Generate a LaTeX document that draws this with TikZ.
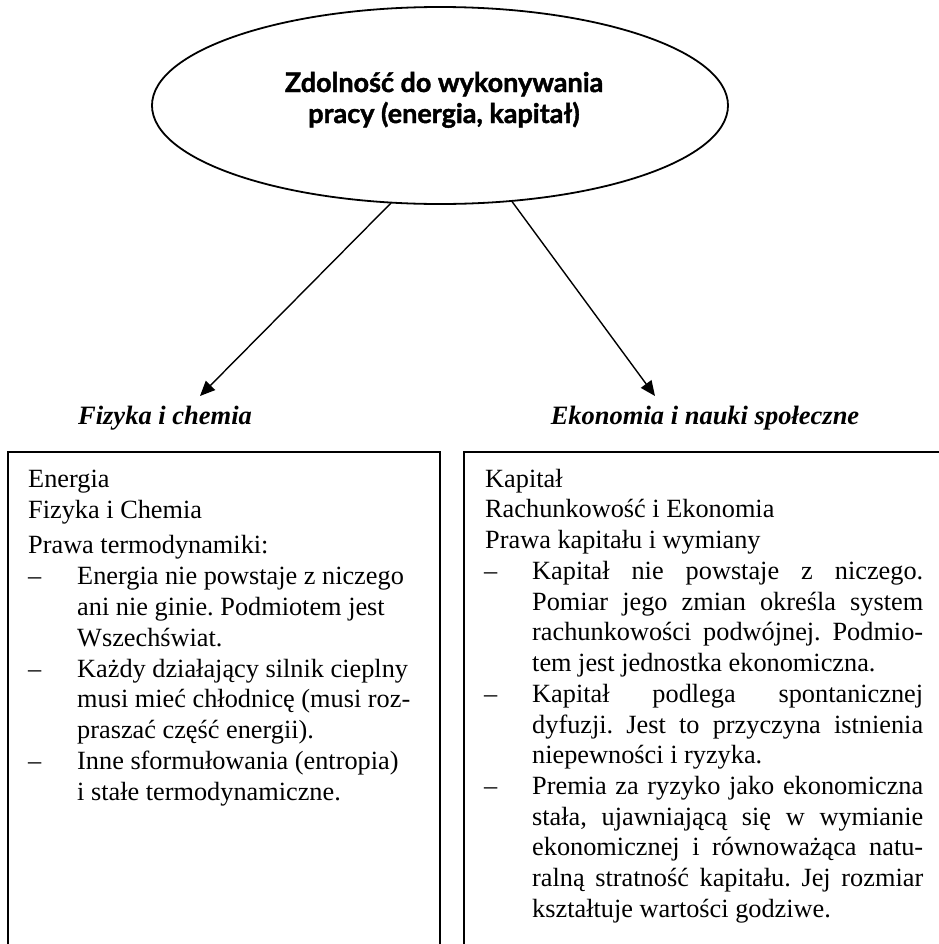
\documentclass[tikz,border=0pt]{standalone}
\usepackage{fontspec}
\setmainfont{Liberation Serif}
\newfontfamily\titlefont{Lato}[BoldFeatures={FakeBold=1.5}]
\usetikzlibrary{shapes.geometric,arrows.meta}
\newcommand{\jline}[1]{\makebox[391bp][s]{#1}}
\frenchspacing
\tikzset{
  txt/.style={anchor=base west, inner sep=0pt, font=\fontsize{26.3bp}{31bp}\selectfont},
  lbl/.style={anchor=base, inner sep=0pt, font=\fontsize{26.5bp}{31bp}\selectfont\bfseries\itshape},
  conn/.style={line width=1.4bp, -{Triangle[length=15bp,width=13bp]}},
  boxline/.style={line width=2bp},
}
\begin{document}
\begin{tikzpicture}[x=1bp,y=-1bp]
\useasboundingbox (0,0) rectangle (939,944);
% ellipse
\node[draw, ellipse, line width=1.8bp, minimum width=576bp, minimum height=197bp, inner sep=0pt] (E) at (440,105.5) {};
\node[anchor=base, inner sep=0pt, align=center, font=\titlefont\bfseries\fontsize{27bp}{31bp}\selectfont] (title) at (444,123) {Zdolność do wykonywania\\pracy (energia, kapitał)};
% arrows
\coordinate (s1) at (391,203);
\coordinate (s2) at (512,201.5);
\coordinate (t1) at (200,396);
\coordinate (t2) at (655,396);
\draw[conn] (s1) -- (t1);
\draw[conn] (s2) -- (t2);
% labels
\node[lbl] (lab1) at (165,424) {Fizyka i chemia};
\node[lbl] (lab2) at (705,424) {Ekonomia i nauki społeczne};
% boxes
\draw[boxline] (7.5,944) -- (7.5,452) -- (440,452) -- (440,944);
\draw[boxline] (464,944) -- (464,452) -- (939,452);
% left box text
\node[txt] (a1) at (28,487) {Energia};
\node[txt] (a2) at (28,518) {Fizyka i Chemia};
\node[txt] (a3) at (28,553) {Prawa termodynamiki:};
\node[txt] (ad1) at (28,584) {–};
\node[txt] (a4) at (77,584) {Energia nie powstaje z niczego};
\node[txt] (a5) at (77,615) {ani nie ginie. Podmiotem jest};
\node[txt] (a6) at (77,646) {Wszechświat.};
\node[txt] (ad2) at (28,677) {–};
\node[txt] (a7) at (77,677) {Każdy działający silnik cieplny};
\node[txt] (a8) at (77,707) {musi mieć chłodnicę (musi roz-};
\node[txt] (a9) at (77,738) {praszać część energii).};
\node[txt] (ad3) at (28,769) {–};
\node[txt] (a10) at (77,769) {Inne sformułowania (entropia)};
\node[txt] (a11) at (77,800) {i stałe termodynamiczne.};
% right box text
\node[txt] (b1) at (485,487) {Kapitał};
\node[txt] (b2) at (485,517) {Rachunkowość i Ekonomia};
\node[txt] (b3) at (485,548) {Prawa kapitału i wymiany};
\node[txt] (bd1) at (484,579) {–};
\node[txt] (b4) at (532,579) {\jline{Kapitał nie powstaje z niczego.}};
\node[txt] (b5) at (532,610) {\jline{Pomiar jego zmian określa system}};
\node[txt] (b6) at (532,640) {\jline{rachunkowości podwójnej. Podmio-}};
\node[txt] (b7) at (532,671) {tem jest jednostka ekonomiczna.};
\node[txt] (bd2) at (484,702) {–};
\node[txt] (b8) at (532,702) {\jline{Kapitał podlega spontanicznej}};
\node[txt] (b9) at (532,733) {\jline{dyfuzji. Jest to przyczyna istnienia}};
\node[txt] (b10) at (532,763) {niepewności i ryzyka.};
\node[txt] (bd3) at (484,794) {–};
\node[txt] (b11) at (532,794) {\jline{Premia za ryzyko jako ekonomiczna}};
\node[txt] (b12) at (532,825) {\jline{stała, ujawniającą się w wymianie}};
\node[txt] (b13) at (532,855) {\jline{ekonomicznej i równoważąca natu-}};
\node[txt] (b14) at (532,886) {\jline{ralną stratność kapitału. Jej rozmiar}};
\node[txt] (b15) at (532,917) {kształtuje wartości godziwe.};
\end{tikzpicture}
\end{document}
